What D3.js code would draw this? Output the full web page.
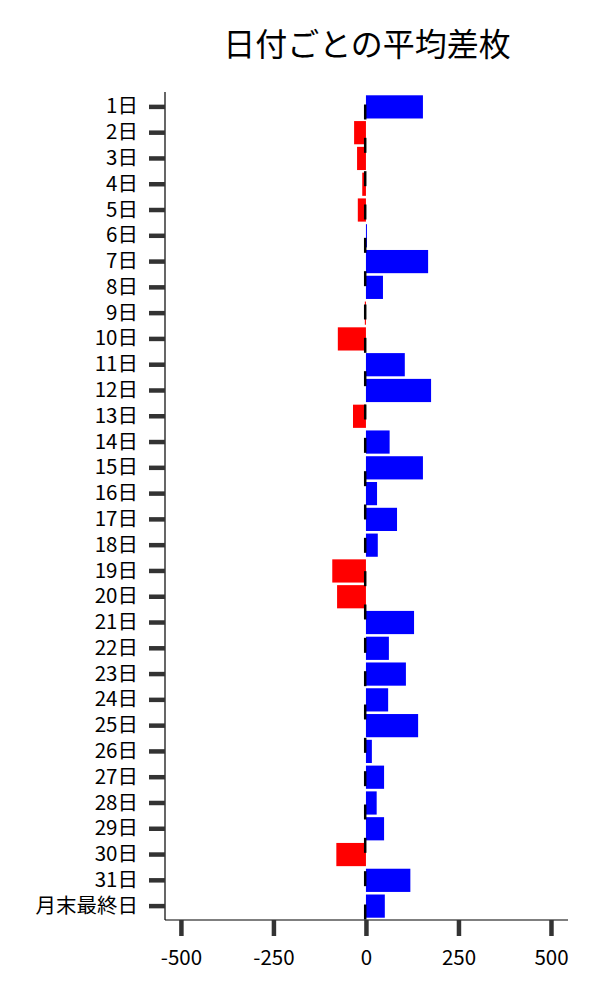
<!DOCTYPE html>
<html>
<head>
<meta charset="utf-8">
<script src="https://cdn.jsdelivr.net/npm/d3@7"></script>
<style>
html,body{margin:0;padding:0;background:#fff;}
svg{display:block;font-family:"Noto Sans CJK JP","Noto Sans",sans-serif;}
</style>
</head>
<body>
<svg id="chart" width="600" height="1000"></svg>
<script>
const categories = ["1日","2日","3日","4日","5日","6日","7日","8日","9日","10日","11日","12日","13日","14日","15日","16日","17日","18日","19日","20日","21日","22日","23日","24日","25日","26日","27日","28日","29日","30日","31日","月末最終日"];
const values = [154,-32,-24,-10,-22,1,168,46,-3,-76,105,176,-35,64,154,30,84,32,-91,-78,130,62,108,60,141,16,49,29,49,-80,120,51];
const markValues = [-2,-2,-2,-2,-2,-2,-2,-2,-2,-2,-2,-2,-2,-2,-2,-2,-2,-2,-2,-2,-2,-2,-2,-2,-2];
const xTicks = [-500,-250,0,250,500];
const title = "日付ごとの平均差枚";

const svg = d3.select("#chart");
const x = d3.scaleLinear().domain([-543,546]).range([165,568]);
const y = d3.scaleBand().domain(categories).range([94,919]).paddingInner(0.1).paddingOuter(0.05);
const ym = d3.scalePoint().domain(d3.range(markValues.length)).range([112,912]);

svg.append("text").attr("x",367).attr("y",56).attr("text-anchor","middle")
  .attr("font-size",32).attr("fill","#000").text(title);

svg.append("g").selectAll("rect").data(values).join("rect")
  .attr("x",(d)=>x(Math.min(0,d)))
  .attr("width",(d)=>Math.max(1,Math.abs(x(d)-x(0))))
  .attr("y",(d,i)=>y(categories[i]))
  .attr("height",y.bandwidth())
  .attr("fill",(d)=>d>=0?"#0000ff":"#ff0000");

svg.append("g").selectAll("line").data(markValues).join("line")
  .attr("x1",(d)=>x(d)).attr("x2",(d)=>x(d))
  .attr("y1",(d,i)=>ym(i)-7.5).attr("y2",(d,i)=>ym(i)+7.5)
  .attr("stroke","#000").attr("stroke-width",2.5);

const yAxis = svg.append("g").attr("transform","translate(165,0)")
  .call(d3.axisLeft(y).tickSize(16).tickPadding(11).tickSizeOuter(0));
yAxis.select(".domain").attr("d","M0,92V920").attr("stroke","#000").attr("stroke-width",1.2);
yAxis.selectAll(".tick line").attr("stroke","#333").attr("stroke-width",4.5);
yAxis.selectAll(".tick text").attr("font-size",20.5).attr("fill","#000").attr("font-family","Noto Sans CJK JP");

const xAxis = svg.append("g").attr("transform","translate(0,920)")
  .call(d3.axisBottom(x).tickValues(xTicks).tickFormat((d)=>String(d)).tickSize(16).tickPadding(14).tickSizeOuter(0));
xAxis.select(".domain").attr("d","M165,0H568").attr("stroke","#000").attr("stroke-width",1.2);
xAxis.selectAll(".tick line").attr("stroke","#333").attr("stroke-width",4.5);
xAxis.selectAll(".tick text").attr("font-size",20.5).attr("fill","#000").attr("font-family","Noto Sans CJK JP");
</script>
</body>
</html>
